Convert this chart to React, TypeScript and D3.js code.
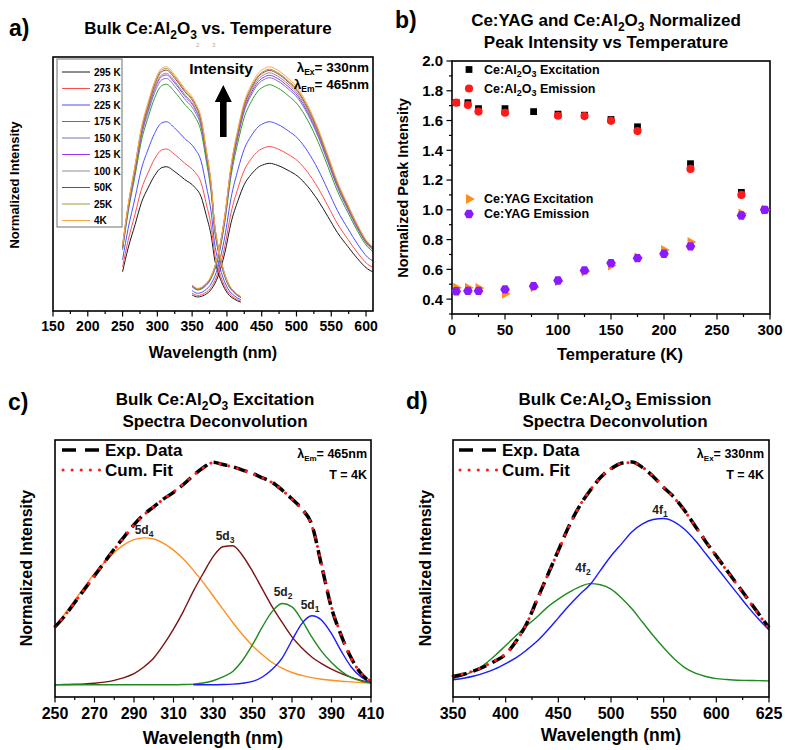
import React from "react";
import * as d3 from "d3";

const FF = "'Liberation Sans', Arial, Helvetica, sans-serif";

// ---- a) spectra vs temperature ----
const tempLabels = ["295 K", "273 K", "225 K", "175 K", "150 K", "125 K", "100 K", "50K", "25K", "4K"];
const tempColors = ["#1a1a1a", "#ff4d4d", "#4d4dff", "#2e9e2e", "#7474b8", "#9b30ff", "#8f8f8f", "#a33a3a", "#a09a3a", "#ffa64d"];
// peak height of each curve relative to 4K
const excPeak = [0.589, 0.662, 0.774, 0.928, 0.952, 0.966, 0.973, 0.986, 0.993, 1.0];
const emPeak = [0.603, 0.672, 0.774, 0.926, 0.955, 0.965, 0.975, 0.985, 0.99, 1.0];
const excWl = [250, 258, 268, 277, 287, 296, 306, 313, 325, 339, 354, 363, 370, 378, 382, 387, 392, 401, 411, 420];
const excShape = [0.267, 0.432, 0.596, 0.748, 0.856, 0.938, 0.993, 1.0, 0.966, 0.912, 0.856, 0.789, 0.666, 0.501, 0.363, 0.267, 0.199, 0.116, 0.075, 0.055];
const emWl = [350, 358, 368, 378, 387, 397, 406, 416, 425, 435, 445, 454, 461, 473, 488, 502, 516, 531, 545, 559, 574, 588, 602, 610];
const emShape = [0.103, 0.089, 0.103, 0.144, 0.226, 0.39, 0.596, 0.747, 0.856, 0.925, 0.973, 0.993, 1.0, 0.986, 0.952, 0.911, 0.843, 0.747, 0.638, 0.527, 0.432, 0.349, 0.281, 0.26];
const aTicks = [150, 200, 250, 300, 350, 400, 450, 500, 550, 600];
const aMinor = [175, 225, 275, 325, 375, 425, 475, 525, 575];

// ---- b) normalized peak intensity ----
const tAlExc = [4, 15, 25, 50, 77, 100, 125, 150, 175, 225, 273, 295];
const alExc = [1.72, 1.72, 1.68, 1.68, 1.66, 1.643, 1.636, 1.607, 1.558, 1.31, 1.117, 1.0];
const tAlEm = [4, 15, 25, 50, 100, 125, 150, 175, 225, 273, 295];
const alEm = [1.72, 1.704, 1.66, 1.652, 1.632, 1.63, 1.598, 1.529, 1.275, 1.1, 1.0];
const tYag = [4, 15, 25, 50, 77, 100, 125, 150, 175, 200, 225, 273, 295];
const yagExc = [0.476, 0.476, 0.474, 0.436, 0.48, 0.52, 0.585, 0.626, 0.68, 0.73, 0.784, 0.975, 1.0];
const yagEm = [0.453, 0.455, 0.455, 0.465, 0.487, 0.525, 0.593, 0.642, 0.675, 0.705, 0.755, 0.962, 1.0];
const bXTicks = [0, 50, 100, 150, 200, 250, 300];
const bXMinor = [25, 75, 125, 175, 225, 275];
const bYTicks = [0.4, 0.6, 0.8, 1.0, 1.2, 1.4, 1.6, 1.8, 2.0];
const bYMinor = [0.3, 0.5, 0.7, 0.9, 1.1, 1.3, 1.5, 1.7, 1.9];

// ---- c) excitation deconvolution ----
const cWl = [250, 255, 260, 265, 270, 275, 280, 285, 290, 295, 300, 305, 310, 315, 320, 325, 330, 335, 340, 345, 350, 355, 360, 365, 370, 375, 380, 385, 390, 395, 400, 405, 410];
const cExp = [0.26, 0.31, 0.37, 0.43, 0.49, 0.55, 0.61, 0.665, 0.72, 0.765, 0.8, 0.835, 0.865, 0.9, 0.94, 0.975, 1.0, 0.99, 0.98, 0.965, 0.95, 0.93, 0.91, 0.875, 0.835, 0.79, 0.72, 0.535, 0.345, 0.22, 0.12, 0.05, 0.012];
const cFit = [0.262, 0.312, 0.37, 0.43, 0.49, 0.55, 0.608, 0.663, 0.718, 0.763, 0.8, 0.835, 0.867, 0.902, 0.94, 0.974, 0.998, 0.99, 0.978, 0.964, 0.948, 0.93, 0.908, 0.875, 0.833, 0.788, 0.715, 0.54, 0.35, 0.222, 0.118, 0.052, 0.014];
const c5d4 = [0.26, 0.32, 0.38, 0.44, 0.5, 0.55, 0.595, 0.63, 0.652, 0.66, 0.655, 0.635, 0.605, 0.565, 0.515, 0.46, 0.4, 0.34, 0.28, 0.225, 0.175, 0.135, 0.1, 0.075, 0.055, 0.042, 0.032, 0.025, 0.02, 0.016, 0.013, 0.01, 0.008];
const c5d3 = [0.0, 0.001, 0.002, 0.004, 0.007, 0.012, 0.02, 0.032, 0.05, 0.08, 0.12, 0.18, 0.25, 0.33, 0.42, 0.5, 0.575, 0.62, 0.625, 0.58, 0.51, 0.43, 0.35, 0.28, 0.215, 0.165, 0.125, 0.095, 0.07, 0.05, 0.033, 0.02, 0.01];
const c5d2 = [0, 0, 0, 0, 0, 0, 0, 0, 0, 0, 0, 0, 0, 0.001, 0.003, 0.008, 0.018, 0.035, 0.06, 0.11, 0.18, 0.26, 0.33, 0.365, 0.35, 0.29, 0.215, 0.15, 0.1, 0.06, 0.032, 0.017, 0.008];
const c5d1Wl = [320, 325, 330, 335, 340, 345, 350, 355, 360, 365, 370, 375, 380, 385, 390, 395, 400, 405, 410];
const c5d1 = [0, 0, 0, 0.001, 0.003, 0.007, 0.015, 0.035, 0.07, 0.12, 0.2, 0.275, 0.31, 0.29, 0.23, 0.15, 0.08, 0.035, 0.01];
const cTicks = [250, 270, 290, 310, 330, 350, 370, 390, 410];
const cMinor = [260, 280, 300, 320, 340, 360, 380, 400];

// ---- d) emission deconvolution ----
const dWl = [350, 360, 370, 380, 390, 400, 410, 420, 430, 440, 450, 460, 470, 480, 490, 500, 510, 520, 530, 540, 550, 560, 570, 580, 590, 600, 610, 620, 630, 640, 650];
const dExp = [0.03, 0.04, 0.055, 0.075, 0.1, 0.13, 0.19, 0.27, 0.38, 0.49, 0.6, 0.71, 0.8, 0.87, 0.93, 0.97, 0.995, 1.0, 0.975, 0.935, 0.885, 0.84, 0.78, 0.71, 0.64, 0.575, 0.51, 0.445, 0.38, 0.315, 0.25];
const dFit = [0.032, 0.042, 0.056, 0.077, 0.102, 0.133, 0.188, 0.27, 0.378, 0.49, 0.598, 0.708, 0.8, 0.872, 0.93, 0.972, 0.995, 0.998, 0.976, 0.936, 0.886, 0.838, 0.778, 0.71, 0.642, 0.575, 0.508, 0.443, 0.378, 0.312, 0.245];
const d4f1 = [0.015, 0.022, 0.032, 0.046, 0.064, 0.088, 0.115, 0.15, 0.19, 0.24, 0.295, 0.35, 0.4, 0.445, 0.51, 0.575, 0.63, 0.685, 0.72, 0.74, 0.745, 0.73, 0.695, 0.645, 0.585, 0.525, 0.465, 0.405, 0.345, 0.29, 0.24];
const d4f2 = [0.02, 0.035, 0.055, 0.085, 0.125, 0.17, 0.215, 0.26, 0.3, 0.345, 0.38, 0.41, 0.435, 0.45, 0.445, 0.425, 0.385, 0.335, 0.275, 0.215, 0.16, 0.11, 0.07, 0.045, 0.03, 0.02, 0.016, 0.013, 0.012, 0.011, 0.01];
const dTicks = [350, 400, 450, 500, 550, 600, 650];
const dTickLabels = ["350", "400", "450", "500", "550", "600", "625"];
const dMinor = [375, 425, 475, 525, 575, 625];

type Lin = d3.ScaleLinear<number, number>;

const path = (xs: number[], ys: number[], x: Lin, y: Lin) =>
  d3.line<number>().x((_, i) => x(xs[i])).y((v) => y(v)).curve(d3.curveMonotoneX)(ys) || "";

const hexagon = {
  draw(ctx: any, size: number) {
    const r = Math.sqrt(size / 2.6);
    for (let k = 0; k < 6; k++) {
      const a = (Math.PI / 3) * k;
      if (k === 0) ctx.moveTo(r * Math.cos(a), r * Math.sin(a));
      else ctx.lineTo(r * Math.cos(a), r * Math.sin(a));
    }
    ctx.closePath();
  },
};
const sym = {
  square: d3.symbol().type(d3.symbolSquare).size(46)() || "",
  circle: d3.symbol().type(d3.symbolCircle).size(52)() || "",
  tri: d3.symbol().type(d3.symbolTriangle).size(44)() || "",
  hex: d3.symbol().type(hexagon as any).size(60)() || "",
};

function BottomAxis({ x, y0, major, minor, labels, fs }: { x: Lin; y0: number; major: number[]; minor: number[]; labels: string[]; fs: number }) {
  return (
    <g fontFamily={FF} fontWeight="bold" fontSize={fs}>
      {minor.map((v) => (
        <line key={"m" + v} x1={x(v)} x2={x(v)} y1={y0} y2={y0 + 3} stroke="#000" strokeWidth={1.2} />
      ))}
      {major.map((v, i) => (
        <g key={v}>
          <line x1={x(v)} x2={x(v)} y1={y0} y2={y0 + 5.5} stroke="#000" strokeWidth={1.2} />
          <text x={x(v)} y={y0 + fs + 6} textAnchor="middle">{labels[i]}</text>
        </g>
      ))}
    </g>
  );
}

function Sub({ t, fs }: { t: string; fs: number }) {
  return <tspan fontSize={fs} dy={fs * 0.4}>{t}</tspan>;
}

function PanelA() {
  const x = d3.scaleLinear().domain([150, 610]).range([53, 373]);
  const y = d3.scaleLinear().domain([-0.004, 1.04]).range([311, 57]);
  return (
    <g>
      <text x={9} y={36} fontFamily={FF} fontWeight="bold" fontSize={23}>a)</text>
      <text x={208} y={34} textAnchor="middle" fontFamily={FF} fontWeight="bold" fontSize={17}>
        Bulk Ce:Al<Sub t="2" fs={12} /><tspan dy={-4.8}>O</tspan><Sub t="3" fs={12} /><tspan dy={-4.8}> vs. Temperature</tspan>
      </text>
      <text x={196} y={47} fontFamily={FF} fontSize={6} fill="#aaa">2</text>
      <text x={212} y={47} fontFamily={FF} fontSize={6} fill="#aaa">3</text>
      <g fill="none" strokeWidth={1}>
        {tempLabels.map((t, i) => (
          <g key={t} stroke={tempColors[i]}>
            <path d={path(excWl, excShape.map((v) => v * excPeak[i]), x, y)} />
            <path d={path(emWl, emShape.map((v) => v * emPeak[i]), x, y)} />
          </g>
        ))}
      </g>
      <rect x={53} y={57} width={320} height={254} fill="none" stroke="#000" strokeWidth={1.6} />
      <rect x={57} y={59} width={65} height={168} fill="#fff" stroke="#888" strokeWidth={1.2} />
      {tempLabels.map((t, i) => (
        <g key={t}>
          <line x1={62} x2={90} y1={72 + i * 16.5} y2={72 + i * 16.5} stroke={tempColors[i]} strokeWidth={1} />
          <text x={94} y={72 + i * 16.5} dy="0.35em" fontFamily={FF} fontWeight="bold" fontSize={10}>{t}</text>
        </g>
      ))}
      <text x={221} y={74} textAnchor="middle" fontFamily={FF} fontWeight="bold" fontSize={15.5}>Intensity</text>
      <path d="M223.3,85 L231.8,102 L226.6,102 L226.6,137 L220,137 L220,102 L214.8,102 Z" fill="#000" />
      <g fontFamily={FF} fontWeight="bold" fontSize={13.5} textAnchor="end">
        <text x={369} y={72}>λ<Sub t="Ex" fs={8.5} /><tspan dy={-3.4}>= 330nm</tspan></text>
        <text x={369} y={89}>λ<Sub t="Em" fs={8.5} /><tspan dy={-3.4}>= 465nm</tspan></text>
      </g>
      <BottomAxis x={x} y0={311} major={aTicks} minor={aMinor} labels={aTicks.map(String)} fs={14} />
      <text x={213} y={358} textAnchor="middle" fontFamily={FF} fontWeight="bold" fontSize={16}>Wavelength (nm)</text>
      <text transform="translate(14,185) rotate(-90)" textAnchor="middle" dy="0.35em" fontFamily={FF} fontWeight="bold" fontSize={13}>Normalized Intensity</text>
    </g>
  );
}

function PanelB() {
  const x = d3.scaleLinear().domain([0, 300]).range([452, 770]);
  const y = d3.scaleLinear().domain([0.3, 2.0]).range([314, 61]);
  return (
    <g>
      <text x={395} y={28} fontFamily={FF} fontWeight="bold" fontSize={23}>b)</text>
      <g fontFamily={FF} fontWeight="bold" fontSize={17} textAnchor="middle">
        <text x={606} y={26}>Ce:YAG and Ce:Al<Sub t="2" fs={12} /><tspan dy={-4.8}>O</tspan><Sub t="3" fs={12} /><tspan dy={-4.8}> Normalized</tspan></text>
        <text x={606} y={48}>Peak Intensity vs Temperature</text>
      </g>
      <rect x={452} y={61} width={318} height={253} fill="none" stroke="#000" strokeWidth={1.6} />
      {tAlExc.map((t, i) => (
        <path key={"ae" + t} d={sym.square} transform={`translate(${x(t)},${y(alExc[i])})`} fill="#000" />
      ))}
      {tAlEm.map((t, i) => (
        <path key={"am" + t} d={sym.circle} transform={`translate(${x(t)},${y(alEm[i])})`} fill="#ff1a1a" />
      ))}
      {tYag.map((t, i) => (
        <path key={"ye" + t} d={sym.tri} transform={`translate(${x(t)},${y(yagExc[i])}) rotate(90)`} fill="#ff8c1a" />
      ))}
      {tYag.map((t, i) => (
        <path key={"ym" + t} d={sym.hex} transform={`translate(${x(t)},${y(yagEm[i])})`} fill="#8a1aff" />
      ))}
      <BottomAxis x={x} y0={314} major={bXTicks} minor={bXMinor} labels={bXTicks.map(String)} fs={15} />
      <g fontFamily={FF} fontWeight="bold" fontSize={15}>
        {bYMinor.map((v) => (
          <line key={"m" + v} x1={452} x2={449} y1={y(v)} y2={y(v)} stroke="#000" strokeWidth={1.2} />
        ))}
        {bYTicks.map((v) => (
          <g key={v}>
            <line x1={452} x2={446.5} y1={y(v)} y2={y(v)} stroke="#000" strokeWidth={1.2} />
            <text x={443} y={y(v)} dy="0.36em" textAnchor="end">{v.toFixed(1)}</text>
          </g>
        ))}
      </g>
      <text x={620} y={360} textAnchor="middle" fontFamily={FF} fontWeight="bold" fontSize={16.5}>Temperature (K)</text>
      <text transform="translate(403,188) rotate(-90)" textAnchor="middle" dy="0.35em" fontFamily={FF} fontWeight="bold" fontSize={14.5}>Normalized Peak Intensity</text>
      <g fontFamily={FF} fontWeight="bold" fontSize={12.5}>
        <path d={sym.square} transform="translate(469,69.5)" fill="#000" />
        <text x={484} y={73.5}>Ce:Al<Sub t="2" fs={9} /><tspan dy={-3.6}>O</tspan><Sub t="3" fs={9} /><tspan dy={-3.6}> Excitation</tspan></text>
        <path d={sym.circle} transform="translate(469,88.5)" fill="#ff1a1a" />
        <text x={484} y={92.5}>Ce:Al<Sub t="2" fs={9} /><tspan dy={-3.6}>O</tspan><Sub t="3" fs={9} /><tspan dy={-3.6}> Emission</tspan></text>
        <path d={sym.tri} transform="translate(469,199) rotate(90)" fill="#ff8c1a" />
        <text x={484} y={203}>Ce:YAG Excitation</text>
        <path d={sym.hex} transform="translate(469,214)" fill="#8a1aff" />
        <text x={484} y={218}>Ce:YAG Emission</text>
      </g>
    </g>
  );
}

function DeconvLegend({ x0, sub, lam }: { x0: number; sub: string; lam: string }) {
  return (
    <g fontFamily={FF}>
      <line x1={x0 + 8} x2={x0 + 47} y1={450} y2={450} stroke="#000" strokeWidth={3.5} strokeDasharray="14 9" />
      <text x={x0 + 51} y={456} fontWeight="bold" fontSize={17}>Exp. Data</text>
      <line x1={x0 + 9} x2={x0 + 47} y1={470} y2={470} stroke="#ff1a1a" strokeWidth={3} strokeDasharray="0.1 9" strokeLinecap="round" />
      <text x={x0 + 51} y={476} fontWeight="bold" fontSize={17}>Cum. Fit</text>
      <g fontWeight="bold" fontSize={12.5} textAnchor="end">
        <text x={x0 + 313} y={458}>λ<Sub t={sub} fs={8} /><tspan dy={-3.2}>= {lam}</tspan></text>
        <text x={x0 + 313} y={479}>T = 4K</text>
      </g>
    </g>
  );
}

function PanelC() {
  const x = d3.scaleLinear().domain([250, 410]).range([55, 371]);
  const y = d3.scaleLinear().domain([-0.055, 1.1]).range([697, 440]);
  return (
    <g>
      <text x={8} y={410} fontFamily={FF} fontWeight="bold" fontSize={23}>c)</text>
      <g fontFamily={FF} fontWeight="bold" fontSize={17} textAnchor="middle">
        <text x={215} y={405}>Bulk Ce:Al<Sub t="2" fs={12} /><tspan dy={-4.8}>O</tspan><Sub t="3" fs={12} /><tspan dy={-4.8}> Excitation</tspan></text>
        <text x={215} y={427}>Spectra Deconvolution</text>
      </g>
      <g fill="none" strokeWidth={1.4}>
        <path d={path(cWl, c5d4, x, y)} stroke="#ff9020" />
        <path d={path(cWl, c5d3, x, y)} stroke="#7a1414" />
        <path d={path(cWl, c5d2, x, y)} stroke="#1f8a1f" />
        <path d={path(c5d1Wl, c5d1, x, y)} stroke="#1a1aff" />
        <path d={path(cWl, cExp, x, y)} stroke="#000" strokeWidth={3.5} strokeDasharray="14 7" />
        <path d={path(cWl, cFit, x, y)} stroke="#ff1a1a" strokeWidth={3} strokeDasharray="0.1 9" strokeLinecap="round" />
      </g>
      <g fontFamily={FF} fontWeight="bold" fontSize={12} fill="#222" textAnchor="middle">
        <text x={144} y={534}>5d<Sub t="4" fs={8.5} /></text>
        <text x={225} y={540}>5d<Sub t="3" fs={8.5} /></text>
        <text x={283} y={596}>5d<Sub t="2" fs={8.5} /></text>
        <text x={310} y={609}>5d<Sub t="1" fs={8.5} /></text>
      </g>
      <rect x={55} y={440} width={316} height={257} fill="none" stroke="#000" strokeWidth={1.6} />
      <DeconvLegend x0={54} sub="Em" lam="465nm" />
      <BottomAxis x={x} y0={697} major={cTicks} minor={cMinor} labels={cTicks.map(String)} fs={16} />
      <text x={213} y={744} textAnchor="middle" fontFamily={FF} fontWeight="bold" fontSize={17.5}>Wavelength (nm)</text>
      <text transform="translate(26,568) rotate(-90)" textAnchor="middle" dy="0.35em" fontFamily={FF} fontWeight="bold" fontSize={16}>Normalized Intensity</text>
    </g>
  );
}

function PanelD() {
  const x = d3.scaleLinear().domain([350, 650]).range([453, 769]);
  const y = d3.scaleLinear().domain([-0.063, 1.1]).range([697, 440]);
  return (
    <g>
      <text x={406} y={409} fontFamily={FF} fontWeight="bold" fontSize={23}>d)</text>
      <g fontFamily={FF} fontWeight="bold" fontSize={17} textAnchor="middle">
        <text x={615} y={405}>Bulk Ce:Al<Sub t="2" fs={12} /><tspan dy={-4.8}>O</tspan><Sub t="3" fs={12} /><tspan dy={-4.8}> Emission</tspan></text>
        <text x={615} y={427}>Spectra Deconvolution</text>
      </g>
      <g fill="none" strokeWidth={1.4}>
        <path d={path(dWl, d4f2, x, y)} stroke="#1f8a1f" />
        <path d={path(dWl, d4f1, x, y)} stroke="#1a1aff" />
        <path d={path(dWl, dExp, x, y)} stroke="#000" strokeWidth={3.5} strokeDasharray="14 7" />
        <path d={path(dWl, dFit, x, y)} stroke="#ff1a1a" strokeWidth={3} strokeDasharray="0.1 9" strokeLinecap="round" />
      </g>
      <g fontFamily={FF} fontWeight="bold" fontSize={12} fill="#222" textAnchor="middle">
        <text x={660} y={514}>4f<Sub t="1" fs={8.5} /></text>
        <text x={583} y={572}>4f<Sub t="2" fs={8.5} /></text>
      </g>
      <rect x={453} y={440} width={316} height={257} fill="none" stroke="#000" strokeWidth={1.6} />
      <DeconvLegend x0={451} sub="Ex" lam="330nm" />
      <BottomAxis x={x} y0={697} major={dTicks} minor={dMinor} labels={dTickLabels} fs={16} />
      <text x={611} y={741} textAnchor="middle" fontFamily={FF} fontWeight="bold" fontSize={17.5}>Wavelength (nm)</text>
      <text transform="translate(425,568) rotate(-90)" textAnchor="middle" dy="0.35em" fontFamily={FF} fontWeight="bold" fontSize={16}>Normalized Intensity</text>
    </g>
  );
}

export default function App() {
  return (
    <svg width={785} height={750} style={{ position: "absolute", left: 0, top: 0, background: "#fff" }}>
      <rect width={785} height={750} fill="#fff" />
      <PanelA />
      <PanelB />
      <PanelC />
      <PanelD />
    </svg>
  );
}
